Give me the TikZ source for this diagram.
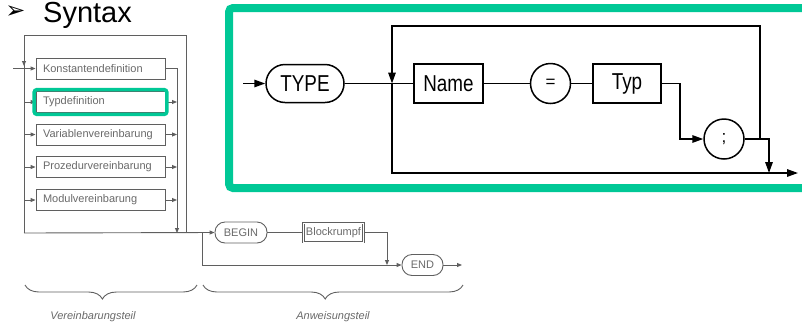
\documentclass[tikz,border=0pt]{standalone}
\usepackage{fontspec}
\setmainfont{Liberation Sans}
\newfontfamily\narrowsans[FakeStretch=0.82]{Liberation Sans}
\newfontfamily\symfont{DejaVu Sans}
\usetikzlibrary{arrows.meta,decorations.pathreplacing,fit}
\definecolor{hlgreen}{RGB}{0,200,150}
\definecolor{scan}{RGB}{95,95,95}
\definecolor{scantext}{RGB}{105,105,105}
\begin{document}
\begin{tikzpicture}[x=1pt,y=-1pt,
  % large syntax diagram (TYPE declaration)
  bigline/.style={line width=1.5pt, line join=miter},
  bigtip/.style={bigline, -{Triangle[length=11pt,width=7.5pt]}},
  rterm/.style={draw, bigline, rounded corners=19pt, minimum width=78pt, minimum height=38pt,
    inner sep=0, font=\narrowsans\fontsize{23}{23}\selectfont},
  rbox/.style={draw, bigline, minimum height=39pt, inner sep=0,
    font=\narrowsans\fontsize{23}{23}\selectfont},
  rcirc/.style={draw, bigline, circle, minimum size=40pt, inner sep=0,
    font=\fontsize{17}{17}\selectfont},
  % small block diagram
  skline/.style={draw=scan, line width=0.9pt},
  sktip/.style={skline, -{Triangle[length=5pt,width=4pt]}},
  skbox/.style={draw=scan, line width=0.9pt, minimum height=21pt, inner sep=0,
    inner xsep=7pt, text width=115pt, align=left, text=scantext,
    font=\fontsize{11}{11}\selectfont},
  skterm/.style={draw=scan, line width=0.9pt, rounded corners=10pt, minimum height=21pt,
    inner sep=0, text=scantext, font=\fontsize{11}{11}\selectfont},
  sklabel/.style={text=scantext, inner sep=0, font=\itshape\fontsize{11}{11}\selectfont},
  hlbox/.style={draw=hlgreen, rounded corners=3pt}
]
\useasboundingbox (0,0) rectangle (802,322);

% heading
\node[inner sep=0, font=\symfont\fontsize{24}{24}\selectfont] (bullet) at (15.5,12.5) {➢};
\node[anchor=base west, inner sep=0, font=\fontsize{29}{29}\selectfont] (title) at (43,22) {Syntax};

% ---------- block: declarations ----------
\node[skbox] (konst) at (100.5,68.5) {Konstantendefinition};
\node[skbox] (typdef) at (100.5,102) {Typdefinition};
\node[skbox] (var) at (100.5,134.5) {Variablenvereinbarung};
\node[skbox] (proz) at (100.5,167) {Prozedurvereinbarung};
\node[skbox] (modul) at (100.5,200) {Modulvereinbarung};

\coordinate (ltop) at (24,35);
\coordinate (rtop) at (186,35);
\coordinate (lbot) at (24,233);
\coordinate (rbot) at (186,233);
\coordinate (rin) at (177,233);
\coordinate (in) at (13,68.5);
\coordinate (ldown) at (24,66);

\draw[skline] (lbot) -- (ltop) -- (rtop) -- (rbot);
\draw[sktip] (ltop) -- (ldown);
\draw[sktip] (in) -- (konst.west);
\foreach \b in {typdef,var,proz,modul}{
  \draw[sktip] (\b.west -| ltop) -- (\b.west);
  \draw[sktip] (\b.east) -- (\b.east -| rin);
}
\draw[sktip] (konst.east) -- (konst.east -| rin) -- (rin);

% ---------- block: statements ----------
\node[skterm, minimum width=52pt] (begin) at (241,232.5) {BEGIN};
\node[draw=scan, double=white, double distance=0.9pt, line width=0.8pt, minimum width=60pt,
  minimum height=19pt, inner sep=0, text=scantext, font=\fontsize{11}{11}\selectfont]
  (block) at (333.5,232.5) {Blockrumpf};
\node[skterm, minimum width=41pt] (end) at (422.5,265) {END};

\coordinate (fork) at (202,233);
\coordinate (bj) at (387,265);
\coordinate (out) at (462,265);
\draw[sktip] (lbot) -- (begin.west);
\draw[sktip] (fork) |- (end.west);
\draw[skline] (begin.east) -- (block.west);
\draw[sktip] (block.east) -| (bj);
\draw[sktip] (end.east) -- (out);

% braces and their labels
\draw[skline, decorate, decoration={brace, amplitude=14pt, aspect=0.55}] (197,285) -- (25,285);
\draw[skline, decorate, decoration={brace, amplitude=14pt, aspect=0.53}] (463,285) -- (203,285);
\node[sklabel, anchor=base] (vt) at (93,319) {Vereinbarungsteil};
\node[sklabel, anchor=base] (at) at (333,319) {Anweisungsteil};

% highlight of the type definition entry
\node[hlbox, line width=3.5pt, fit=(typdef), inner sep=1.5pt] (typhl) {};

% ---------- TYPE declaration ----------
\node[rterm] (type) at (305,83.5) {TYPE};
\node[rbox, minimum width=69pt] (name) at (448.5,83.5) {Name};
\node[rcirc] (eq) at (550.5,83.5) {=};
\node[rbox, minimum width=68pt] (typ) at (627,83.5) {Typ};
\node[rcirc] (semi) at (724,139) {;};

\coordinate (start) at (243,83.5);
\coordinate (j1) at (392,83.5);
\coordinate (looptl) at (392,26);
\coordinate (sx) at (760,139);
\coordinate (dn) at (769,139);
\coordinate (dnb) at (769,173);
\coordinate (exit) at (798,173);
\coordinate (tj) at (680,83.5);

\draw[bigtip] (start) -- (type.west);
\draw[bigline] (type.east) -- (name.west);
\draw[bigline] (name.east) -- (eq.west);
\draw[bigline] (eq.east) -- (typ.west);
\draw[bigtip] (typ.east) -- (tj) |- (semi.west);
\draw[bigtip] (semi.east) -- (dn) -- (dnb);
\draw[bigtip] (sx) |- (looptl) -- (j1);
\draw[bigtip] (j1) |- (exit);

% highlight frame
\draw[hlgreen, line width=8pt, rounded corners=4pt] (229,8) rectangle (812,188);
\end{tikzpicture}
\end{document}
